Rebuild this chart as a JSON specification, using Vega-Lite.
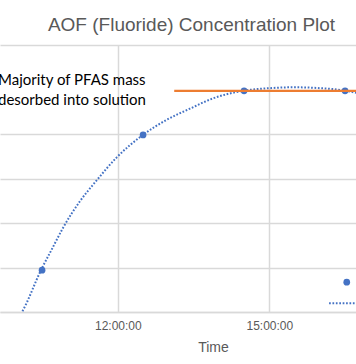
{
  "$schema": "https://vega.github.io/schema/vega-lite/v6.json",
  "autosize": "none",
  "width": 356,
  "height": 267,
  "padding": {"top": 45, "left": 0, "right": 0, "bottom": 52},
  "background": "white",
  "title": {
    "text": "AOF (Fluoride) Concentration Plot",
    "anchor": "middle",
    "dx": 13.5,
    "offset": -5,
    "baseline": "alphabetic",
    "font": "Liberation Sans",
    "fontSize": 19,
    "fontWeight": "normal",
    "color": "#595959"
  },
  "config": {
    "view": {"stroke": null},
    "axis": {"labelFont": "Liberation Sans", "titleFont": "Liberation Sans"}
  },
  "datasets": {
    "points": [
      {"time": "2024-01-01T10:30:00", "value": 94},
      {"time": "2024-01-01T12:30:00", "value": 398},
      {"time": "2024-01-01T14:30:00", "value": 497},
      {"time": "2024-01-01T16:30:00", "value": 497},
      {"time": "2024-01-01T16:32:00", "value": 67}
    ],
    "trend": [
      {"time": "2024-01-01T10:02:34", "value": -11},
      {"time": "2024-01-01T10:06:08", "value": 0},
      {"time": "2024-01-01T10:28:43", "value": 94},
      {"time": "2024-01-01T10:42:58", "value": 146},
      {"time": "2024-01-01T10:54:51", "value": 189},
      {"time": "2024-01-01T11:15:03", "value": 249},
      {"time": "2024-01-01T11:34:04", "value": 294},
      {"time": "2024-01-01T11:59:00", "value": 348},
      {"time": "2024-01-01T12:29:54", "value": 398},
      {"time": "2024-01-01T12:57:14", "value": 431},
      {"time": "2024-01-01T13:25:45", "value": 457},
      {"time": "2024-01-01T13:53:04", "value": 480},
      {"time": "2024-01-01T14:28:43", "value": 497},
      {"time": "2024-01-01T15:00:48", "value": 503},
      {"time": "2024-01-01T15:30:30", "value": 505},
      {"time": "2024-01-01T16:00:12", "value": 503},
      {"time": "2024-01-01T16:15:38", "value": 501},
      {"time": "2024-01-01T16:31:05", "value": 497},
      {"time": "2024-01-01T16:50:00", "value": 490}
    ],
    "tail": [
      {"time": "2024-01-01T16:11:00", "value": 19.6},
      {"time": "2024-01-01T16:50:00", "value": 19.6}
    ],
    "plateau": [
      {"time": "2024-01-01T13:07:00", "value": 497},
      {"time": "2024-01-01T16:50:00", "value": 497}
    ],
    "note": [
      {"time": "2024-01-01T09:37:37", "value": 509, "label": "Majority of PFAS mass|desorbed into solution"}
    ]
  },
  "encoding": {
    "x": {
      "field": "time",
      "type": "temporal",
      "scale": {"domain": [
        {"year": 2024, "month": 1, "date": 1, "hours": 9, "minutes": 40},
        {"year": 2024, "month": 1, "date": 1, "hours": 16, "minutes": 43}
      ]},
      "axis": {
        "values": [
          {"year": 2024, "month": 1, "date": 1, "hours": 12},
          {"year": 2024, "month": 1, "date": 1, "hours": 15}
        ],
        "format": "%H:%M:%S",
        "title": "Time",
        "titleX": 213,
        "titleY": 39,
        "titleBaseline": "alphabetic",
        "titleFontSize": 14,
        "titleFontWeight": "normal",
        "titleColor": "#595959",
        "labelFontSize": 12,
        "labelColor": "#595959",
        "labelPadding": 8,
        "ticks": false,
        "domainColor": "#d9d9d9",
        "domainWidth": 1.5,
        "grid": true,
        "gridColor": "#d9d9d9",
        "gridWidth": 1.5
      }
    },
    "y": {
      "field": "value",
      "type": "quantitative",
      "scale": {"domain": [0, 600], "nice": false, "zero": false},
      "axis": {
        "values": [0, 100, 200, 300, 400, 600],
        "labels": false,
        "ticks": false,
        "domain": false,
        "title": null,
        "grid": true,
        "gridColor": "#d9d9d9",
        "gridWidth": 1.5
      }
    }
  },
  "layer": [
    {
      "data": {"name": "trend"},
      "mark": {"type": "line", "clip": true, "interpolate": "monotone", "color": "#4472C4", "strokeWidth": 2, "strokeDash": [1.7, 1.7]}
    },
    {
      "data": {"name": "tail"},
      "mark": {"type": "line", "clip": true, "color": "#4472C4", "strokeWidth": 2, "strokeDash": [1.7, 1.7]}
    },
    {
      "data": {"name": "points"},
      "mark": {"type": "point", "filled": true, "opacity": 1, "size": 45, "color": "#4472C4"}
    },
    {
      "data": {"name": "plateau"},
      "mark": {"type": "line", "clip": true, "color": "#ED7D31", "strokeWidth": 2.25}
    },
    {
      "data": {"name": "note"},
      "mark": {"type": "text", "align": "left", "baseline": "alphabetic", "font": "Lato", "fontSize": 15, "color": "#000000", "lineBreak": "|", "lineHeight": 19.5},
      "encoding": {"text": {"field": "label"}}
    }
  ]
}
